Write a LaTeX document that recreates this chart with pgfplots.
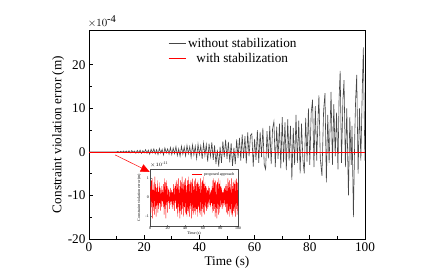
\documentclass[border=0pt]{standalone}
\usepackage{fontspec}
\setmainfont{Liberation Serif}
\usepackage{pgfplots}
\pgfplotsset{compat=1.18}
\usetikzlibrary{arrows.meta}
\definecolor{curvegray}{RGB}{70,70,70}
\begin{document}
\begin{tikzpicture}
\useasboundingbox (0,0) rectangle (436bp,280bp);
\begin{axis}[
  at={(89bp,41bp)}, anchor=south west,
  scale only axis, width=276bp, height=209bp,
  clip mode=individual,
  xmin=0, xmax=100, ymin=-20, ymax=28,
  xtick={0,20,40,60,80,100}, ytick={-20,-10,0,10,20},
  minor x tick num=1, minor y tick num=1,
  tick align=inside, xtick pos=bottom, ytick pos=left,
  major tick length=4bp, minor tick length=2.5bp,
  axis line style={line width=0.9pt}, tick style={line width=0.7pt, black},
  /pgf/number format/assume math mode=true,
  ticklabel style={font=\fontsize{13.3}{15}\selectfont},
  xlabel={Time (s)}, ylabel={Constraint violation error (m)},
  label style={font=\fontsize{13.3}{15}\selectfont},
  xlabel style={at={(axis description cs:0.5,-0.11)}, anchor=center},
  ylabel style={at={(axis description cs:-0.112,0.5)}, anchor=center},
  legend style={draw=none, fill=none, at={(axis description cs:0.283,0.975)}, anchor=north west,
    font=\fontsize{13.3}{14}\selectfont, row sep=0pt, inner sep=1pt},
  legend cell align=center,
]
\addplot[curvegray, line width=0.6pt] coordinates {
(0,0) (5,0.02) (10,0) (10.5,0.1) (11,-0.1) (11.5,0.15) (12,-0.1) (12.5,0.2) (13,-0.15) (13.5,0.2) (14,-0.1) (14.5,0.25) (15,-0.2) (15.5,0.3) (16,-0.1) (16.5,0.2) (17,-0.3) (17.5,0.35) (18,-0.2) (18.5,0.4) (19,-0.3) (19.5,0.3) (20,-0.2)
(20.5,0.5) (21,-0.3) (21.5,0.4) (22,-0.5) (22.5,0.6) (23,-0.2) (23.5,0.7) (24,-0.4) (24.5,0.5) (25,-0.6) (25.5,0.8) (26,-0.3) (26.5,0.6) (27,-0.7) (27.5,0.9) (28,-0.2) (28.5,0.7) (29,-0.5) (29.5,1.0) (30,-0.6)
(30.5,0.9) (31,-0.4) (31.5,1.2) (32,-0.8) (32.5,0.7) (33,-1.0) (33.5,1.3) (34,-0.5) (34.5,1.1) (35,-0.9) (35.5,1.5) (36,-0.4) (36.5,1.2) (37,-1.2) (37.5,1.6) (38,-0.7) (38.5,1.3) (39,-1.5) (39.5,1.8) (40,-0.6)
(40.5,1.4) (41,-1.6) (41.5,2.0) (42,-0.8) (42.5,1.7) (43,-2.2) (43.5,1.9) (44,-1.0) (44.5,2.2) (45,-1.8) (45.5,1.5) (46,-2.8) (46.5,0.5) (47,-3.4) (47.5,1.2) (48,-2.5) (48.5,2.4) (49,-1.2) (49.5,2.8) (50,-1.6)
(50.5,2.3) (51,-2.4) (51.5,2.0) (52,-3.2) (52.5,1.0) (53,-2.8) (53.5,2.9) (54,-1.4) (54.5,3.2) (55,-2.0) (55.5,4.0) (56,-1.5) (56.5,3.6) (57,-2.6) (57.5,4.5) (58,-1.0) (58.5,3.8) (59,4.2) (59.5,-3.4) (60,3.0)
(60.5,-1.8) (61,5.0) (61.5,-2.5) (62,4.6) (62.5,-1.2) (63,5.5) (63.5,-3.0) (64,-4.0) (64.5,4.8) (65,-1.5) (65.5,6.0) (66,-2.8) (66.5,5.2) (67,7.0) (67.5,-3.5) (68,5.8) (68.5,-1.6) (69,6.5) (69.5,-3.8) (70,8.0)
(70.5,-2.4) (71,6.8) (71.5,-4.2) (72,7.5) (72.5,-2.0) (73,6.0) (73.5,-6.4) (74,5.5) (74.5,-3.0) (75,8.5) (75.5,-2.5) (76,7.2) (76.5,-4.9) (77,6.5) (77.5,-1.8) (78,-4.9) (78.5,7.8) (79,-2.2) (79.5,10.0) (80,-3.0)
(80.5,9.0) (81,12.0) (81.5,-3.5) (82,10.5) (82.5,-2.0) (83,8.0) (83.3,13.0) (83.8,-1.5) (84.4,-5.5) (85,9.5) (85.5,13.5) (86,-7.0) (86.5,8.5) (87,-2.5) (87.7,13.8) (88.2,-3.0) (88.7,11.0) (89.2,-1.0) (89.7,9.0) (90.2,-4.0)
(90.6,12.0) (91,18.6) (91.5,-2.5) (92,12.0) (92.4,16.5) (92.9,-3.5) (93.4,10.0) (94,-10.0) (94.5,8.0) (95,-3.0) (95.3,6.0) (95.8,-15.0) (96.3,4.0) (96.6,12.0) (97,17.7) (97.5,-5.0) (98,10.0) (98.5,-2.0) (99,14.0) (99.4,24.0) (99.8,5.0) (100,-2.0)
};
\addlegendentry{without stabilization}
\addplot[red, line width=0.7pt] coordinates {(0,0) (100,0)};
\addlegendentry{with stabilization}
\draw[red, line width=0.5pt, -{Triangle[length=9bp,width=8bp]}] (axis cs:9.5,-0.7) -- (axis cs:22,-4.6);
\node[anchor=south west, inner sep=0pt, font=\fontsize{10.5}{12}\selectfont] at (axis description cs:-0.005,1.012) {$\times10^{\mbox{-4}}$};
\end{axis}
\fill[white] (150bp,54bp) rectangle (238bp,111bp);
\begin{axis}[
  at={(150bp,54bp)}, anchor=south west,
  scale only axis, width=88bp, height=57bp,
  clip mode=individual,
  xmin=0, xmax=100, ymin=-1.5, ymax=1.5,
  xtick={0,20,40,60,80,100}, ytick={-1,0,1},
  tick align=inside, xtick pos=bottom, ytick pos=left,
  major tick length=1.5bp,
  axis line style={line width=0.4pt, black!70}, tick style={line width=0.3pt},
  /pgf/number format/assume math mode=true,
  ticklabel style={font=\fontsize{4}{4.5}\selectfont, inner sep=1pt},
  xlabel={Time (s)}, ylabel={Constraint violation error (m)},
  label style={font=\fontsize{4}{4.5}\selectfont},
  xlabel style={at={(axis description cs:0.5,-0.1)}, anchor=north, inner sep=0pt},
  ylabel style={at={(axis description cs:-0.1,0.5)}, anchor=south, inner sep=0pt},
  legend style={draw=none, fill=none, at={(axis description cs:0.99,0.99)}, anchor=north east,
    font=\fontsize{4}{4.5}\selectfont, inner sep=0.5pt},
  legend image post style={xscale=0.6},
]
\addplot[red, line width=0.35pt] coordinates {
(0,0) (0.5,0.6) (1,-0.8) (1.5,0.9) (2,-0.5) (2.5,1.0) (3,-1.1) (3.5,0.4) (4,-0.7) (4.5,0.8) (5,-0.9) (5.5,1.1) (6,-0.6) (6.5,0.7) (7,-1.0) (7.5,0.5) (8,-0.4) (8.5,0.9) (9,-0.8) (9.5,0.3) (10,-0.6)
(10.5,0.8) (11,-0.3) (11.5,0.5) (12,-0.7) (12.5,0.4) (13,-0.5) (13.5,0.6) (14,-0.2) (14.5,0.4) (15,-0.5) (15.5,0.7) (16,-0.9) (16.5,1.0) (17,-0.6) (17.5,0.8) (18,-1.1) (18.5,0.9) (19,-0.4) (19.5,0.6) (20,-0.8)
(20.5,0.5) (21,-0.3) (21.5,0.4) (22,-0.6) (22.5,0.3) (23,-0.4) (23.5,0.5) (24,-0.2) (24.5,0.4) (25,-0.5) (25.5,0.3) (26,-0.6) (26.5,0.7) (27,-0.4) (27.5,0.5) (28,-0.7) (28.5,0.6) (29,-0.3) (29.5,0.8) (30,-0.6)
(30.5,0.9) (31,-1.0) (31.5,0.7) (32,-0.5) (32.5,1.0) (33,-0.8) (33.5,0.6) (34,-1.1) (34.5,0.9) (35,-0.7) (35.5,0.8) (36,-0.9) (36.5,1.1) (37,-0.6) (37.5,0.7) (38,-1.0) (38.5,0.8) (39,-0.5) (39.5,0.9) (40,-0.8)
(40.5,1.0) (41,-0.9) (41.5,0.6) (42,-1.0) (42.5,0.9) (43,-0.7) (43.5,1.1) (44,-0.8) (44.5,0.7) (45,-1.0) (45.5,0.8) (46,-0.6) (46.5,0.9) (47,-1.1) (47.5,0.8) (48,-0.7) (48.5,1.0) (49,-0.9) (49.5,0.6) (50,-0.8)
(50.5,0.9) (51,-0.7) (51.5,1.0) (52,-0.9) (52.5,0.7) (53,-0.6) (53.5,0.8) (54,-1.0) (54.5,0.9) (55,-0.5) (55.5,0.7) (56,-0.8) (56.5,0.6) (57,-0.9) (57.5,1.0) (58,-0.7) (58.5,0.8) (59,-1.0) (59.5,0.9) (60,-0.6)
(60.5,1.1) (61,-0.8) (61.5,0.7) (62,-0.9) (62.5,0.8) (63,-0.5) (63.5,0.6) (64,-0.7) (64.5,0.5) (65,-0.6) (65.5,0.4) (66,-0.5) (66.5,0.6) (67,-0.3) (67.5,0.5) (68,-0.4) (68.5,0.3) (69,-0.5) (69.5,0.4) (70,-0.3)
(70.5,0.6) (71,-0.8) (71.5,0.9) (72,-0.7) (72.5,1.0) (73,-0.6) (73.5,0.8) (74,-1.0) (74.5,0.9) (75,-0.8) (75.5,0.7) (76,-1.1) (76.5,0.8) (77,-0.6) (77.5,1.0) (78,-0.9) (78.5,0.7) (79,-0.8) (79.5,0.9) (80,-0.5)
(80.5,0.6) (81,-0.4) (81.5,0.5) (82,-0.6) (82.5,0.3) (83,-0.5) (83.5,0.4) (84,-0.3) (84.5,0.5) (85,-0.4) (85.5,0.6) (86,-0.5) (86.5,0.7) (87,-0.8) (87.5,0.6) (88,-0.9) (88.5,1.0) (89,-0.7) (89.5,0.8) (90,-1.0)
(90.5,0.9) (91,-0.6) (91.5,0.7) (92,-0.8) (92.5,1.0) (93,-0.9) (93.5,0.6) (94,-1.0) (94.5,0.8) (95,-0.7) (95.5,0.9) (96,-0.8) (96.5,0.7) (97,-1.0) (97.5,0.9) (98,-0.6) (98.5,1.0) (99,-0.9) (99.5,0.8) (100,-0.7)
};
\addlegendentry{proposed approach}
\node[anchor=south west, inner sep=0pt, font=\fontsize{4}{4.5}\selectfont] at (axis description cs:0,1.02) {$\times10^{\mbox{-11}}$};
\end{axis}
\end{tikzpicture}
\end{document}
